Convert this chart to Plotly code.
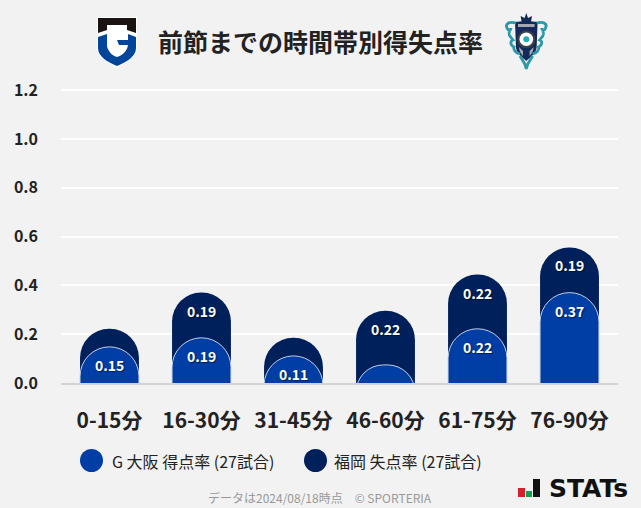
import base64
import plotly.graph_objects as go

W, H = 641, 508
FONT = 'Noto Sans CJK JP'
BG = '#f2f2f2'
BLUE = '#003da5'
NAVY = '#00205b'
LEFT, RIGHT, TOP, BOTTOM = 61, 618, 87, 383

categories = ['0-15分', '16-30分', '31-45分', '46-60分', '61-75分', '76-90分']
scored = [0.1481, 0.1852, 0.1111, 0.0741, 0.2222, 0.3704]
conceded = [0.0741, 0.1852, 0.0741, 0.2222, 0.2222, 0.1852]
y_ticks = [0, 0.2, 0.4, 0.6, 0.8, 1.0, 1.2]
y_tick_labels = ['0.0', '0.2', '0.4', '0.6', '0.8', '1.0', '1.2']
total = [a + b for a, b in zip(scored, conceded)]
# a little headroom, plotly drops a gridline sitting right on the end of the range
Y_RANGE = [0, 1.2131]
# bars start under the axis so short ones still get the full round top, the axis clips the rest
BAR_BASE = -0.15

GAMBA_SVG = '''<svg xmlns="http://www.w3.org/2000/svg" viewBox="0 0 60 62">
<path d="M7 7H47V38C47 47 36 52 27 58C18 52 7 47 7 38Z" fill="#fff"/>
<path d="M8 8H46V23L37 20V15H17V20L8 23Z" fill="#1a1311"/>
<path d="M8 27L17 24V36C18 42 23 46 27 47C33 45 37 41 38 35H29L27 30H38V24L46 27V38C46 47 36 52 27 56C18 52 8 47 8 38Z" fill="#00459a"/>
</svg>'''

AVISPA_SVG = '''<svg xmlns="http://www.w3.org/2000/svg" viewBox="0 0 60 62">
<path d="M28.3 3L30 8L34 6L33 12H23.6L22.6 6L26.6 8Z" fill="#12295a"/>
<path d="M17 12C22 11 34.6 11 39.6 12L38.6 38C37.6 44 32.3 47 28.3 51C24.3 47 19 44 18 38Z" fill="#12295a"/>
<path d="M20 14H36.6V17H20ZM21 37L25 41V46C23 44 21 41 21 37ZM35.6 37L31.6 41V46C33.6 44 35.6 41 35.6 37Z" fill="#a3a9ae"/>
<g fill="none" stroke="#2a9aa8" stroke-width="2.8">
<path d="M18 13C11 11 7 14 9 18C10 21 13 20 13 18M12 21C9 25 13 27 15 30C12 31 12 35 16 37C15 40 18 43 22 44"/>
<path d="M38.6 13C45.6 11 49.6 14 47.6 18C46.6 21 43.6 20 43.6 18M44.6 21C47.6 25 43.6 27 41.6 30C44.6 31 44.6 35 40.6 37C41.6 40 38.6 43 34.6 44"/>
<path d="M22 46C24 50 27 52 28.3 59C29.6 52 32.6 50 34.6 46"/>
</g>
<circle cx="28.3" cy="29.3" r="9" fill="#3a4047"/>
<circle cx="28.3" cy="29.3" r="6.8" fill="#fff"/>
<circle cx="28.3" cy="29.3" r="3" fill="#2ca7b5"/>
</svg>'''


def svg_uri(svg):
    return 'data:image/svg+xml;base64,' + base64.b64encode(svg.encode()).decode()


# paper coords run over the plot area, so convert from page pixels
def px(x):
    return (x - LEFT) / (RIGHT - LEFT)


def py(y):
    return (BOTTOM - y) / (BOTTOM - TOP)


def logo(svg, x, y):
    return dict(source=svg_uri(svg), xref='paper', yref='paper', x=px(x), y=py(y),
                sizex=60 / (RIGHT - LEFT), sizey=62 / (BOTTOM - TOP),
                xanchor='left', yanchor='top', sizing='stretch', layer='above')


def note(text, x, y, size, color, anchor='left', weight=400, family=FONT):
    return dict(text=text, xref='paper', yref='paper', x=px(x), y=py(y), xanchor=anchor, yanchor='middle', showarrow=False,
                font=dict(family=family, size=size, color=color, weight=weight))


def bar_label(i, value, top):
    return dict(text=f'{value:.2f}', x=i, y=top, xref='x', yref='y', yshift=-18, showarrow=False,
                xanchor='center', yanchor='middle',
                font=dict(family=FONT, size=14, color='white', weight=700, shadow='1px 1px 1px rgba(0,0,0,0.5)'))


def rect(x0, y0, x1, y1, color):
    return dict(type='rect', xref='paper', yref='paper', x0=px(x0), x1=px(x1), y0=py(y0), y1=py(y1),
                fillcolor=color, line_width=0)


def dot(x0, x1, y0, y1, color):
    return dict(type='circle', xref='paper', yref='paper', x0=px(x0), x1=px(x1), y0=py(y0), y1=py(y1),
                fillcolor=color, line_width=0)


fig = go.Figure()
fig.add_trace(go.Bar(x=list(range(6)), y=[v - BAR_BASE for v in total], base=BAR_BASE, width=0.64,
                     marker=dict(color=NAVY, cornerradius=30, line=dict(width=0))))
# second axis, otherwise plotly squares off the shorter bar of an overlay
fig.add_trace(go.Bar(x=list(range(6)), y=[v - BAR_BASE for v in scored], base=BAR_BASE, width=0.64, yaxis='y2',
                     marker=dict(color=BLUE, cornerradius=30, line=dict(width=1, color='#c4d0e6'))))

labels = [bar_label(i, v, v) for i, v in enumerate(scored) if v >= 0.1]
labels += [bar_label(i, v, t) for i, (v, t) in enumerate(zip(conceded, total)) if v >= 0.1]
texts = [
    note('前節までの時間帯別得失点率', 320.5, 41, 25, '#222222', 'center', 700),
    note('G 大阪 得点率 (27試合)', 110, 460.5, 16, '#222222'),
    note('福岡 失点率 (27試合)', 332, 460.5, 16, '#222222'),
    note('データは2024/08/18時点　© SPORTERIA', 320, 497, 12, '#999999', 'center'),
    note('STATs', 547, 488, 25, '#111111', 'left', 700, 'DejaVu Sans'),
]

fig.update_layout(
    width=W, height=H, autosize=False, barmode='overlay', showlegend=False,
    paper_bgcolor=BG, plot_bgcolor=BG, font=dict(family=FONT, color='#222222'),
    margin=dict(l=LEFT, r=W - RIGHT, t=TOP, b=H - BOTTOM),
    annotations=labels + texts,
    images=[logo(GAMBA_SVG, 90, 10), logo(AVISPA_SVG, 498, 10)],
    shapes=[
        dot(80, 103, 449, 472, BLUE), dot(304, 327, 449, 472, NAVY),
        rect(518, 488, 525, 497, '#d4202a'), rect(526, 491, 532, 497, '#12a150'), rect(533, 479, 540, 497, '#111111'),
    ],
    yaxis2=dict(overlaying='y', range=Y_RANGE, visible=False),
)
fig.update_xaxes(range=[-0.527, 5.527], tickvals=list(range(6)), ticktext=categories, ticks='', showgrid=False,
                 showline=True, linecolor='#d3d3d3', linewidth=2, zeroline=False, ticklabelstandoff=18,
                 tickfont=dict(family=FONT, size=21, color='#222222', weight=700))
fig.update_yaxes(range=Y_RANGE, tickvals=y_ticks, ticktext=y_tick_labels, ticks='', gridcolor='white', gridwidth=2,
                 zeroline=False, showline=False, ticklabelstandoff=22,
                 tickfont=dict(family=FONT, size=16, color='#222222', weight=700), selector=dict(overlaying=None))

fig.write_html('out.html', config={'displayModeBar': False},
               post_script="document.body.style.margin='0';document.body.style.overflow='hidden';")
